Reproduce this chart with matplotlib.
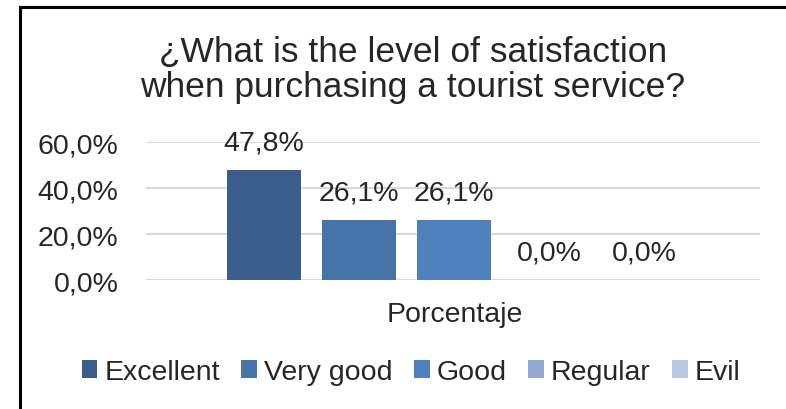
import matplotlib
matplotlib.use("Agg")
import matplotlib.pyplot as plt
from matplotlib.lines import Line2D
from matplotlib.patches import Patch

plt.rcParams['font.family'] = ['Liberation Sans', 'DejaVu Sans']

categories = ["Excellent", "Very good", "Good", "Regular", "Evil"]
values = [47.8, 26.1, 26.1, 0.0, 0.0]
colors = ["#3A5D8C", "#4673A8", "#4E80BE", "#94A9D2", "#BAC8E4"]
y_ticks = [0, 20, 40, 60]
x_label = "Porcentaje"
title = "¿What is the level of satisfaction\nwhen purchasing a tourist service?"

fig = plt.figure(figsize=(7.86, 4.10), dpi=100)
ax = fig.add_axes([0.1858, 0.3146, 0.7812, 0.3366])

positions = [i - (len(categories) - 1) / 2 for i in range(len(categories))]
bars = ax.bar(positions, values, width=0.78, color=colors, zorder=3)

for x, v in zip(positions, values):
    ax.annotate(f"{v:.1f}%".replace(".", ","), (x, v), xytext=(0, 19.5),
                textcoords="offset points", ha="center", va="center",
                fontsize=20.5, color="#262626", annotation_clip=False)

ax.set_xlim(-3.24, 3.22)
ax.set_ylim(0, 60)
ax.set_yticks(y_ticks)
ax.set_yticklabels([f"{t:.1f}%".replace(".", ",") for t in y_ticks],
                   fontsize=20.5, color="#262626")
ax.tick_params(axis="y", length=0, pad=20)
ax.set_xticks([])
ax.grid(axis="y", color="#D9D9D9", linewidth=1.5, zorder=0)
for s in ax.spines.values():
    s.set_visible(False)

fig.text(455 / 786, 1 - 315 / 410, x_label, ha="center", va="center",
         fontsize=20.5, color="#262626")

fig.text(413 / 786, 1 - 70 / 410, title, ha="center", va="center",
         fontsize=25.5, color="#262626", linespacing=1.1)

handles = [Patch(facecolor=c, edgecolor="none") for c in colors]
fig.legend(handles, categories, loc="center", bbox_to_anchor=(411 / 786, 1 - 373 / 410),
           ncol=5, frameon=False, fontsize=20.5, handlelength=0.55, handleheight=0.55,
           handletextpad=0.25, columnspacing=0.75, labelcolor="#262626")

# chart frame: left and top edges
fig.add_artist(Line2D([20 / 786, 20 / 786], [0, 1 - 8 / 410], color="black",
                      linewidth=2.2, transform=fig.transFigure))
fig.add_artist(Line2D([20 / 786, 1], [1 - 8 / 410, 1 - 8 / 410], color="black",
                      linewidth=2.2, transform=fig.transFigure))

fig.savefig("out.png", dpi=100)
